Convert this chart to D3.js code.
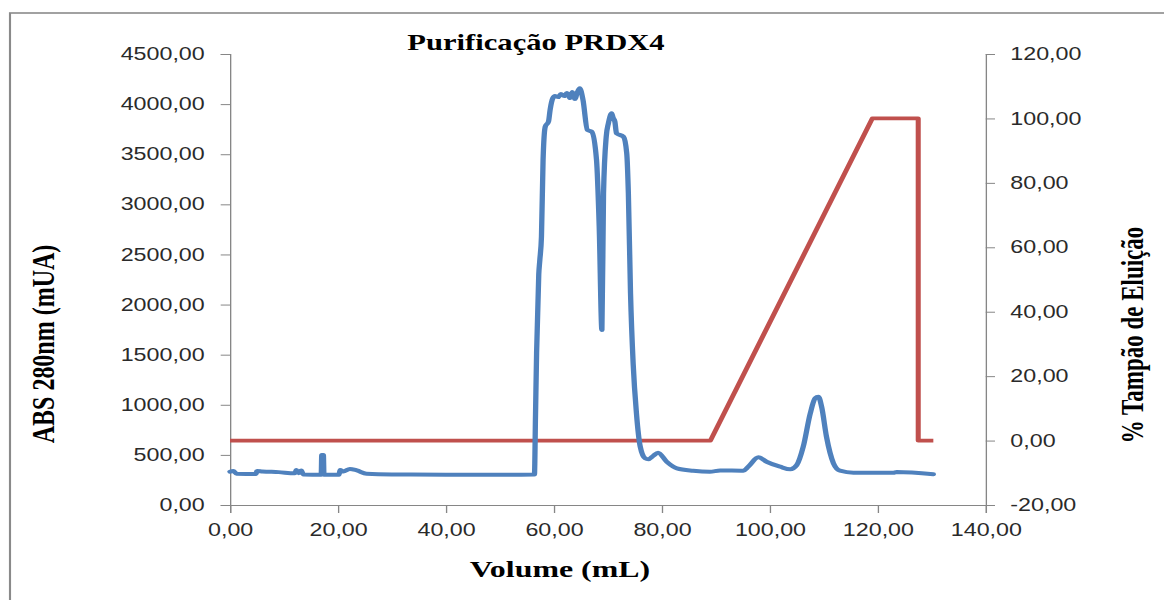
<!DOCTYPE html>
<html>
<head>
<meta charset="utf-8">
<script src="https://cdn.jsdelivr.net/npm/d3@7"></script>
<style>
  html, body { margin: 0; padding: 0; background: #fff; }
  svg { display: block; }
</style>
</head>
<body>
<svg id="chart" width="1164" height="600"></svg>
<script>
// ---------- data ----------
const title = "Purificação PRDX4";
const xTitle = "Volume (mL)";
const yLeftTitle = "ABS 280nm (mUA)";
const yRightTitle = "% Tampão de Eluição";

const xTicks = [0, 20, 40, 60, 80, 100, 120, 140];
const yLeftTicks = [0, 500, 1000, 1500, 2000, 2500, 3000, 3500, 4000, 4500];
const yRightTicks = [-20, 0, 20, 40, 60, 80, 100, 120];

// ABS 280nm (mUA) series
const absVolume = [0.0, 0.6, 1.2, 4.8, 5.0, 6.0, 9.0, 12.0, 12.3, 12.7, 13.2, 13.6, 16.9, 17.0, 17.3, 17.4,
  20.2, 20.4, 21.0, 22.2, 23.5, 25.3, 30.0, 40.0, 50.0, 56.4, 56.6, 56.8, 57.2, 57.4, 57.7, 58.0, 58.4,
  59.0, 59.3, 59.8, 60.2, 60.8, 61.3, 61.9, 62.4, 63.0, 63.4, 63.9, 64.3, 64.8, 65.4, 66.2, 67.0, 67.9,
  68.4, 68.9, 69.2, 69.7, 70.1, 70.7, 71.0, 71.3, 71.6, 72.9, 73.5, 73.8, 74.2, 74.7, 75.3, 76.0, 76.9,
  77.5, 78.4, 79.3, 80.9, 82.8, 85.8, 88.9, 90.8, 95.1, 96.0, 97.9, 99.4, 101.9, 103.8, 105.0, 106.2,
  107.5, 108.4, 109.0, 109.6, 110.5, 111.8, 113.0, 115.5, 122.9, 123.5, 130.3];
const absValue = [332, 340, 312, 310, 340, 335, 328, 316, 350, 318, 345, 305, 302, 500, 500, 302,
  302, 350, 335, 360, 345, 312, 305, 303, 302, 305, 900, 1517, 2300, 2445, 2677, 3443, 3775,
  3825, 3942, 4058, 4080, 4070, 4100, 4080, 4110, 4060, 4120, 4050, 4110, 4158, 4041, 3742, 3725, 3443,
  2777, 1746, 3110, 3675, 3808, 3908, 3860, 3825, 3708, 3675, 3509, 3110, 2112, 1400, 915, 582, 466,
  456, 490, 522, 432, 366, 342, 332, 345, 342, 382, 476, 432, 382, 356, 399, 582,
  915, 1065, 1081, 981, 682, 416, 342, 322, 322, 329, 306];

// % elution buffer series
const bufVolume = [0, 89, 119, 127.5, 127.5, 130.3];
const bufValue = [0, 0, 100, 100, 0, 0];

// ---------- layout ----------
const SX = 1.33; // horizontal stretch of the original picture
const svg = d3.select("#chart");
const root = svg.append("g").attr("transform", `scale(${SX},1)`);

const plotLeft = 230 / SX, plotRight = 985.7 / SX, plotTop = 54, plotBottom = 505;

const x = d3.scaleLinear().domain([0, 140]).range([plotLeft, plotRight]);
const yL = d3.scaleLinear().domain([0, 4500]).range([plotBottom, plotTop]);
const yR = d3.scaleLinear().domain([-20, 120]).range([plotBottom, plotTop]);

const fmt = v => d3.format(".2f")(v).replace(".", ",").replace("−", "-");

// outer border
root.append("rect")
  .attr("x", 10 / SX).attr("y", 13)
  .attr("width", 2000).attr("height", 1000)
  .attr("fill", "none").attr("stroke", "#8a8a8a").attr("stroke-width", 1.6);

const axisColor = "#868686";
const tickFont = "'Liberation Sans', Arial, sans-serif";

function styleAxis(g) {
  g.select(".domain").attr("stroke", axisColor).attr("stroke-width", 1);
  g.selectAll(".tick line").attr("stroke", axisColor).attr("stroke-width", 1);
  g.selectAll(".tick text").attr("fill", "#2a2a2a")
    .style("font-family", tickFont).style("font-size", "17.5px");
}

const gx = root.append("g").attr("transform", `translate(0,${plotBottom})`)
  .call(d3.axisBottom(x).tickValues(xTicks).tickFormat(fmt).tickSizeOuter(0).tickSize(8).tickPadding(11));
styleAxis(gx);

const gyl = root.append("g").attr("transform", `translate(${plotLeft},0)`)
  .call(d3.axisLeft(yL).tickValues(yLeftTicks).tickFormat(fmt).tickSizeOuter(0).tickSize(7).tickPadding(12));
styleAxis(gyl);

const gyr = root.append("g").attr("transform", `translate(${plotRight},0)`)
  .call(d3.axisRight(yR).tickValues(yRightTicks).tickFormat(fmt).tickSizeOuter(0).tickSize(7).tickPadding(11.5));
styleAxis(gyr);

// series
const absData = absVolume.map((v, i) => [v, absValue[i]]);
const bufData = bufVolume.map((v, i) => [v, bufValue[i]]);

root.append("path")
  .datum(bufData)
  .attr("fill", "none").attr("stroke", "#C0504D").attr("stroke-width", 3.8)
  .attr("stroke-linejoin", "round")
  .attr("d", d3.line().x(d => x(d[0])).y(d => yR(d[1])));

root.append("path")
  .datum(absData)
  .attr("fill", "none").attr("stroke", "#4F81BD").attr("stroke-width", 4)
  .attr("stroke-linejoin", "round").attr("stroke-linecap", "round")
  .attr("d", d3.line().curve(d3.curveMonotoneX).x(d => x(d[0])).y(d => yL(d[1])));

// titles
const serif = "'Liberation Serif', 'Times New Roman', serif";
root.append("text")
  .attr("x", 536 / SX).attr("y", 50.5)
  .attr("text-anchor", "middle")
  .style("font-family", serif).style("font-weight", "bold").style("font-size", "23px")
  .text(title);

root.append("text")
  .attr("x", 560 / SX).attr("y", 577)
  .attr("text-anchor", "middle")
  .style("font-family", serif).style("font-weight", "bold").style("font-size", "24px")
  .text(xTitle);

root.append("text")
  .attr("transform", `translate(${54 / SX},344) rotate(-90)`)
  .attr("text-anchor", "middle")
  .style("font-family", serif).style("font-weight", "bold").style("font-size", "24px")
  .text(yLeftTitle);

root.append("text")
  .attr("transform", `translate(${1143 / SX},335) rotate(-90)`)
  .attr("text-anchor", "middle")
  .style("font-family", serif).style("font-weight", "bold").style("font-size", "23px")
  .text(yRightTitle);
</script>
</body>
</html>
